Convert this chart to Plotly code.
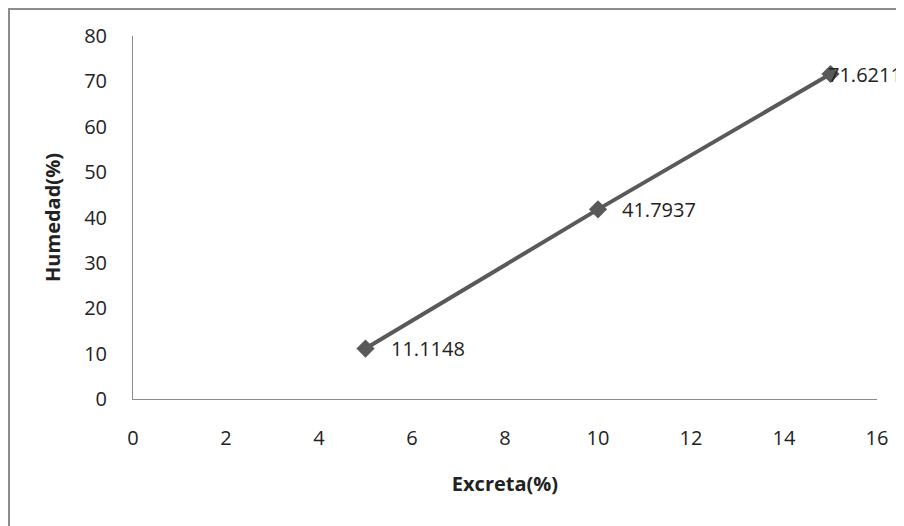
import plotly.graph_objects as go

excreta = [5, 10, 15]
humedad = [11.1148, 41.7937, 71.6211]
labels = ["11.1148", "41.7937", "71.6211"]
x_ticks = [0, 2, 4, 6, 8, 10, 12, 14, 16]
y_ticks = [0, 10, 20, 30, 40, 50, 60, 70, 80]
label_shift = [23, 22, -5]

FONT = "Open Sans, Noto Sans, sans-serif"
TXT = "#222222"
fig = go.Figure()
fig.add_trace(go.Scatter(
    x=excreta, y=humedad, mode="lines+markers",
    line=dict(color="#595959", width=4),
    marker=dict(symbol="diamond", size=14, color="#595959"),
    cliponaxis=False, showlegend=False,
))
for xv, yv, t, s in zip(excreta, humedad, labels, label_shift):
    fig.add_annotation(x=xv, y=yv, text=t, showarrow=False, xanchor="left",
                       yanchor="middle", xshift=s,
                       font=dict(size=20, color=TXT, family=FONT))

# page has an 8px body margin; figure drawn accordingly
W, H = 896, 518
L, R, T, B = 125, 869, 28, 391
def px(x):
    return (x - L) / (R - L)
def py(y):
    return (B - y) / (B - T)

fig.add_shape(type="rect", xref="paper", yref="paper",
              x0=px(1), x1=px(W + 20), y0=py(H + 20), y1=py(1),
              line=dict(color="#8c8c8c", width=2), fillcolor="rgba(0,0,0,0)", layer="below")

fig.update_layout(
    width=W, height=H,
    margin=dict(l=L, r=W - R, t=T, b=H - B),
    paper_bgcolor="white", plot_bgcolor="white",
    font=dict(family=FONT, size=20, color=TXT),
    xaxis=dict(range=[0, 16], tickvals=x_ticks, showgrid=False, zeroline=False,
               showline=True, linecolor="#8c8c8c", linewidth=1, ticks="",
               ticklabelstandoff=21,
               title=dict(text="<b>Excreta(%)</b>", font=dict(size=20), standoff=26)),
    yaxis=dict(range=[0, 80], tickvals=y_ticks, showgrid=False, zeroline=False,
               showline=True, linecolor="#8c8c8c", linewidth=1, ticks="",
               ticklabelstandoff=21,
               title=dict(text="<b>Humedad(%)</b>", font=dict(size=20), standoff=18)),
)
fig.write_html("out.html")
